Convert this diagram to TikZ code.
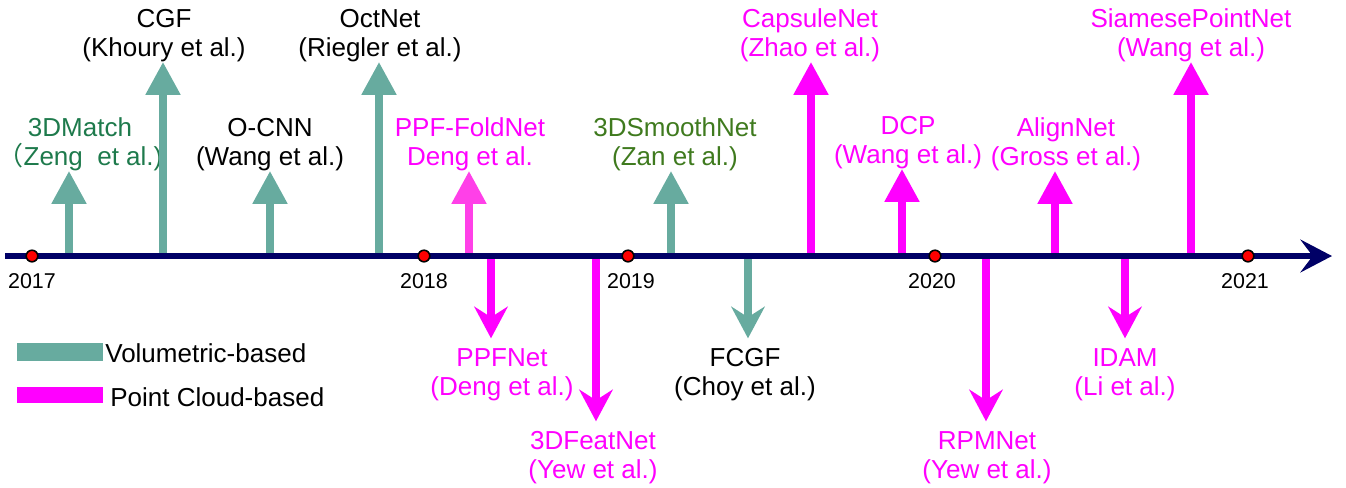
\documentclass[tikz,border=0pt]{standalone}
\usepackage{fontspec}
\setmainfont{Liberation Sans}
\newfontfamily\cjk{Noto Sans CJK SC}
\usepackage{tikz}
\usetikzlibrary{arrows.meta}
\definecolor{vol}{HTML}{67AB9F}
\definecolor{pcd}{HTML}{FF00FF}
\definecolor{pcdlight}{HTML}{FF40E8}
\definecolor{axisblue}{HTML}{000066}
\definecolor{dgreen}{HTML}{1E7A4C}
\definecolor{ogreen}{HTML}{3F7A1E}

\tikzset{
	lbl/.style={align=center, inner sep=0pt, font=\fontsize{14.8}{16.4}\selectfont},
	uparrow/.style={line width=4pt, -{Triangle[length=18.7pt,width=19pt]}},
	downarrow/.style={line width=4pt, shorten >=5.5pt, -{Stealth[length=18pt,width=19pt,inset=6pt]}},
	yearlbl/.style={inner sep=0pt, font=\fontsize{12.2}{14}\selectfont},
	yeardot/.style={circle, draw=black, fill=red, line width=0.9pt, inner sep=0pt, minimum size=6.6pt}
}

\begin{document}
\begin{tikzpicture}[x=0.02cm, y=-0.02cm]
		\useasboundingbox (0,0) rectangle (1346,487);

		\node[lbl, anchor=south, text=dgreen] (match) at (80,171) {3DMatch\\{\cjk （}Zeng\ \ et al.)};
		\node[lbl, anchor=south] (cgf) at (164,62) {CGF\\(Khoury et al.)};
		\node[lbl, anchor=south] (ocnn) at (270,171) {O-CNN\\(Wang et al.)};
		\node[lbl, anchor=south] (octnet) at (380,62) {OctNet\\(Riegler et al.)};
		\node[lbl, anchor=south, text=pcd] (foldnet) at (470,171) {PPF-FoldNet\\Deng et al.};
		\node[lbl, anchor=south, text=ogreen] (smooth) at (675,171) {3DSmoothNet\\(Zan et al.)};
		\node[lbl, anchor=south, text=pcd] (capsule) at (810,62) {CapsuleNet\\(Zhao et al.)};
		\node[lbl, anchor=south, text=pcd] (dcp) at (908,169) {DCP\\(Wang et al.)};
		\node[lbl, anchor=south, text=pcd] (align) at (1066,171) {AlignNet\\(Gross et al.)};
		\node[lbl, anchor=south, text=pcd] (siamese) at (1191,62) {SiamesePointNet\\(Wang et al.)};

		\node[lbl, anchor=north, text=pcd] (ppfnet) at (502,348) {PPFNet\\(Deng et al.)};
		\node[lbl, anchor=north, text=pcd] (featnet) at (593,431) {3DFeatNet\\(Yew et al.)};
		\node[lbl, anchor=north] (fcgf) at (745,348) {FCGF\\(Choy et al.)};
		\node[lbl, anchor=north, text=pcd] (rpmnet) at (987,431) {RPMNet\\(Yew et al.)};
		\node[lbl, anchor=north, text=pcd] (idam) at (1125,348) {IDAM\\(Li et al.)};

		\coordinate (match-b) at (69,256);
		\coordinate (cgf-b) at (163,256);
		\coordinate (ocnn-b) at (270,256);
		\coordinate (octnet-b) at (379,256);
		\coordinate (foldnet-b) at (469,256);
		\coordinate (smooth-b) at (671,256);
		\coordinate (capsule-b) at (811,256);
		\coordinate (dcp-b) at (902,256);
		\coordinate (align-b) at (1055,256);
		\coordinate (siamese-b) at (1191,256);
		\coordinate (ppfnet-b) at (491,256);
		\coordinate (featnet-b) at (596,256);
		\coordinate (fcgf-b) at (748,256);
		\coordinate (rpmnet-b) at (986,256);
		\coordinate (idam-b) at (1125,256);

		\draw[uparrow, vol] (match-b) -- (match-b |- match.south);
		\draw[uparrow, vol] (cgf-b) -- (cgf-b |- cgf.south);
		\draw[uparrow, vol] (ocnn-b) -- (ocnn-b |- ocnn.south);
		\draw[uparrow, vol] (octnet-b) -- (octnet-b |- octnet.south);
		\draw[uparrow, pcdlight] (foldnet-b) -- (foldnet-b |- foldnet.south);
		\draw[uparrow, vol] (smooth-b) -- (smooth-b |- smooth.south);
		\draw[uparrow, pcd] (capsule-b) -- (capsule-b |- capsule.south);
		\draw[uparrow, pcd] (dcp-b) -- (dcp-b |- dcp.south);
		\draw[uparrow, pcd] (align-b) -- (align-b |- align.south);
		\draw[uparrow, pcd] (siamese-b) -- (siamese-b |- siamese.south);
		\draw[downarrow, pcd] (ppfnet-b) -- (ppfnet-b |- ppfnet.north);
		\draw[downarrow, pcd] (featnet-b) -- (featnet-b |- featnet.north);
		\draw[downarrow, vol] (fcgf-b) -- (fcgf-b |- fcgf.north);
		\draw[downarrow, pcd] (rpmnet-b) -- (rpmnet-b |- rpmnet.north);
		\draw[downarrow, pcd] (idam-b) -- (idam-b |- idam.north);

		\coordinate (tl-start) at (5,256);
		\coordinate (tl-end) at (1332,256);
		\draw[axisblue, line width=3.2pt, -{Stealth[length=18pt,width=18.7pt,inset=7pt]}] (tl-start) -- (tl-end);

		\node[yeardot] (d2017) at (32,256) {};
		\node[yeardot] (d2018) at (424,256) {};
		\node[yeardot] (d2019) at (628,256) {};
		\node[yeardot] (d2020) at (935,256) {};
		\node[yeardot] (d2021) at (1248,256) {};
		\node[yearlbl] (y2017) at (32,281) {2017};
		\node[yearlbl] (y2018) at (424,281) {2018};
		\node[yearlbl] (y2019) at (631,281) {2019};
		\node[yearlbl] (y2020) at (932,281) {2020};
		\node[yearlbl] (y2021) at (1245,281) {2021};

		\fill[vol] (17,343) rectangle (103,361);
		\fill[pcd] (17,387) rectangle (103,403);
		\node[lbl, anchor=west] (legvol) at (105,353) {Volumetric-based};
		\node[lbl, anchor=west] (legpcd) at (110,397) {Point Cloud-based};
	\end{tikzpicture}
\end{document}
